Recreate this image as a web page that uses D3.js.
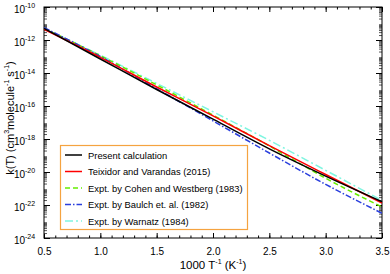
<!DOCTYPE html>
<html>
<head>
<meta charset="utf-8">
<script src="https://cdn.jsdelivr.net/npm/d3@7"></script>
<style>
body { margin: 0; background: #fff; }
text { font-family: "Liberation Sans", Arial, sans-serif; }
</style>
</head>
<body>
<div id="chart"></div>
<script>
// 1000/T values and log10 k(T)
const xs = [0.5, 1.0, 1.5, 2.0, 2.5, 3.0, 3.5];
const present = [-11.3, -13.15, -15.0, -16.8, -18.6, -20.25, -21.8];
const teixidor = [-11.35, -13.05, -14.85, -16.6, -18.4, -20.15, -21.88];
const cohen = [-11.3, -12.95, -14.72, -16.55, -18.42, -20.38, -22.12];
const baulch = [-11.25, -13.0, -14.95, -16.9, -18.85, -20.75, -22.5];
const warnatz = [-11.3, -12.92, -14.63, -16.35, -18.08, -19.9, -21.72];

const seriesNames = ["Present calculation", "Teixidor and Varandas (2015)",
  "Expt. by Cohen and Westberg (1983)", "Expt. by Baulch et. al. (1982)", "Expt. by Warnatz (1984)"];
const seriesVals = [present, teixidor, cohen, baulch, warnatz];
const colors = ["#000000", "#ff0000", "#66ee00", "#2a3fdd", "#7ff5e0"];
const dashes = [null, null, "5,3", "6,2,1.5,2", "8,3,2,3"];

const xTicks = [0.5, 1.0, 1.5, 2.0, 2.5, 3.0, 3.5];
const yExps = [-24, -22, -20, -18, -16, -14, -12, -10];

const width = 390, height = 274;
const margin = { top: 7, right: 8, bottom: 36, left: 44 };

const svg = d3.select("#chart").append("svg")
  .attr("width", width).attr("height", height);

const x = d3.scaleLinear().domain([0.5, 3.5]).range([margin.left, width - margin.right]);
const y = d3.scaleLog().domain([1e-24, 1e-10]).range([height - margin.bottom, margin.top]);

// minor tick values
const minorX = d3.range(5, 36).map(d => d / 10);
const minorY = [];
for (let e = -24; e < -10; e++) for (let m = 2; m <= 9; m++) minorY.push(m * Math.pow(10, e));
const majorY = yExps.map(e => Math.pow(10, e));

function clean(g) { g.select(".domain").remove(); g.selectAll("text").remove(); }

// ticks drawn inward on all four sides
svg.append("g").attr("transform", `translate(0,${height - margin.bottom})`)
  .call(d3.axisBottom(x).tickValues(minorX).tickSize(-2.5)).call(clean);
svg.append("g").attr("transform", `translate(0,${height - margin.bottom})`)
  .call(d3.axisBottom(x).tickValues(xTicks).tickSize(-5).tickFormat(d3.format(".1f")))
  .call(g => g.select(".domain").remove())
  .call(g => g.selectAll("text").attr("dy", "1.35em").attr("font-size", 10).attr("fill", "#000"));
svg.append("g").attr("transform", `translate(0,${margin.top})`)
  .call(d3.axisTop(x).tickValues(minorX).tickSize(-2.5)).call(clean);
svg.append("g").attr("transform", `translate(0,${margin.top})`)
  .call(d3.axisTop(x).tickValues(xTicks).tickSize(-5)).call(clean);

svg.append("g").attr("transform", `translate(${margin.left},0)`)
  .call(d3.axisLeft(y).tickValues(minorY).tickSize(-3)).call(clean)
  .selectAll("line").attr("stroke", "#555");
svg.append("g").attr("transform", `translate(${margin.left},0)`)
  .call(d3.axisLeft(y).tickValues(majorY).tickSize(-6)).call(clean);
svg.append("g").attr("transform", `translate(${width - margin.right},0)`)
  .call(d3.axisRight(y).tickValues(minorY).tickSize(-3)).call(clean)
  .selectAll("line").attr("stroke", "#555");
svg.append("g").attr("transform", `translate(${width - margin.right},0)`)
  .call(d3.axisRight(y).tickValues(majorY).tickSize(-6)).call(clean);

// y tick labels 10^n
const ylab = svg.append("g");
yExps.forEach(e => {
  const yy = y(Math.pow(10, e));
  ylab.append("text").attr("x", 25).attr("y", yy + 6).attr("text-anchor", "end")
    .attr("font-size", 10).text("10");
  ylab.append("text").attr("x", 25).attr("y", yy + 0.5)
    .attr("font-size", 7).text(e);
});

// frame
svg.append("rect")
  .attr("x", margin.left).attr("y", margin.top)
  .attr("width", width - margin.left - margin.right)
  .attr("height", height - margin.top - margin.bottom)
  .attr("fill", "none").attr("stroke", "#000").attr("stroke-width", 1);

// lines
const line = d3.line()
  .x((d, i) => x(xs[i]))
  .y(d => y(Math.pow(10, d)))
  .curve(d3.curveMonotoneX);

const order = [4, 2, 3, 1, 0];
order.forEach(i => {
  svg.append("path")
    .datum(seriesVals[i])
    .attr("d", line)
    .attr("fill", "none")
    .attr("stroke", colors[i])
    .attr("stroke-width", 1.5)
    .attr("stroke-dasharray", dashes[i]);
});

// legend
const lg = svg.append("g");
lg.append("rect").attr("x", 60.5).attr("y", 145.5).attr("width", 187).attr("height", 84)
  .attr("fill", "#fff").attr("stroke", "#f5a340").attr("stroke-width", 1.2);
seriesNames.forEach((name, i) => {
  const yy = 155 + i * 16.5;
  lg.append("line").attr("x1", 65).attr("x2", 82).attr("y1", yy).attr("y2", yy)
    .attr("stroke", colors[i]).attr("stroke-width", 1.5)
    .attr("stroke-dasharray", dashes[i]);
  lg.append("text").attr("x", 88).attr("y", yy + 3.5).attr("font-size", 9.4).text(name);
});

// axis titles
const xt = svg.append("text").attr("x", 213).attr("y", 269)
  .attr("text-anchor", "middle").attr("font-size", 11.5);
xt.append("tspan").text("1000 T");
xt.append("tspan").attr("font-size", 7).attr("dy", -5).text("-1");
xt.append("tspan").attr("dy", 5).text(" (K");
xt.append("tspan").attr("font-size", 7).attr("dy", -5).text("-1");
xt.append("tspan").attr("dy", 5).text(")");

const yt = svg.append("text").attr("transform", "translate(14,118) rotate(-90)")
  .attr("text-anchor", "middle").attr("font-size", 11);
yt.append("tspan").text("k(T) (cm");
yt.append("tspan").attr("font-size", 7).attr("dy", -5).text("3");
yt.append("tspan").attr("dy", 5).text("molecule");
yt.append("tspan").attr("font-size", 7).attr("dy", -5).text("-1");
yt.append("tspan").attr("dy", 5).text(" s");
yt.append("tspan").attr("font-size", 7).attr("dy", -5).text("-1");
yt.append("tspan").attr("dy", 5).text(")");
</script>
</body>
</html>
